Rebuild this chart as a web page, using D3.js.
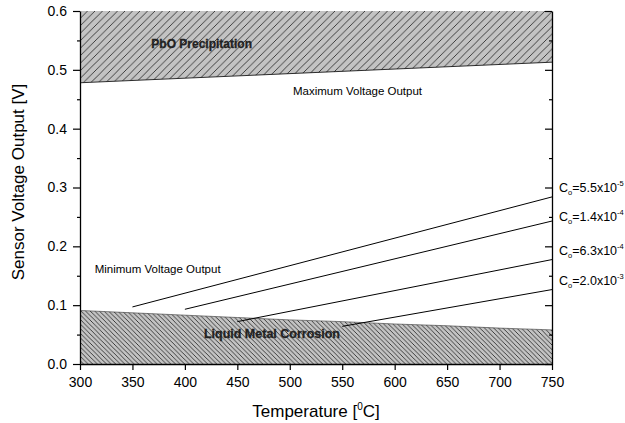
<!DOCTYPE html>
<html>
<head>
<meta charset="utf-8">
<script src="https://cdn.jsdelivr.net/npm/d3@7"></script>
<style>
  body { margin: 0; background: #fff; }
  svg { display: block; font-family: "Liberation Sans", Arial, sans-serif; }
</style>
</head>
<body>
<svg id="chart" width="625" height="423"></svg>
<script>
// values
const xTicks = [300, 350, 400, 450, 500, 550, 600, 650, 700, 750];
const yTicks = [0.0, 0.1, 0.2, 0.3, 0.4, 0.5, 0.6];
const yMinor = [0.05, 0.15, 0.25, 0.35, 0.45, 0.55];

// upper limit (PbO precipitation) and lower limit (liquid metal corrosion)
const precipT = [300, 750];
const precipV = [0.478, 0.513];
const corrT = [300, 350, 400, 450, 500, 550, 600, 650, 700, 750];
const corrV = [0.091, 0.087, 0.083, 0.079, 0.075, 0.072, 0.068, 0.065, 0.061, 0.058];

// sensor output lines for each oxygen concentration
const seriesMant = ['5.5', '1.4', '6.3', '2.0'];
const seriesExp = ['-5', '-4', '-4', '-3'];
const seriesT = [[350, 750], [400, 750], [450, 750], [550, 750]];
const seriesV = [[0.097, 0.284], [0.093, 0.243], [0.072, 0.1775], [0.064, 0.1265]];

const svg = d3.select('#chart');
const margin = { top: 11, right: 73, bottom: 59, left: 80 };
const width = +svg.attr('width');
const height = +svg.attr('height');
const innerWidth = width - margin.left - margin.right;
const innerHeight = height - margin.top - margin.bottom;

const x = d3.scaleLinear().domain([300, 750]).range([0, innerWidth]);
const y = d3.scaleLinear().domain([0, 0.6]).range([innerHeight, 0]);

const defs = svg.append('defs');
function hatch(id, s, up) {
    const p = defs.append('pattern')
        .attr('id', id)
        .attr('patternUnits', 'userSpaceOnUse')
        .attr('width', s).attr('height', s);
    p.append('rect').attr('width', s).attr('height', s).attr('fill', '#c3c3c3');
    const d = up
        ? `M0,${s} L${s},0 M${-s/2},${s/2} L${s/2},${-s/2} M${s/2},${s*1.5} L${s*1.5},${s/2}`
        : `M0,0 L${s},${s} M${-s/2},${s/2} L${s/2},${s*1.5} M${s/2},${-s/2} L${s*1.5},${s/2}`;
    p.append('path').attr('d', d).attr('stroke', '#111').attr('stroke-width', 0.75);
}
hatch('hatchUp', 7.5, true);
hatch('hatchDown', 4.6, false);

const g = svg.append('g')
    .attr('transform', `translate(${margin.left},${margin.top})`);

// regions
const precip = precipT.map((t, i) => ({ t: t, v: precipV[i] }));
const corr = corrT.map((t, i) => ({ t: t, v: corrV[i] }));

g.append('path')
    .datum(precip)
    .attr('fill', 'url(#hatchUp)')
    .attr('d', d3.area().x(d => x(d.t)).y0(y(0.6)).y1(d => y(d.v)));
g.append('path')
    .datum(corr)
    .attr('fill', 'url(#hatchDown)')
    .attr('d', d3.area().x(d => x(d.t)).y0(y(0)).y1(d => y(d.v)));

const edge = d3.line().x(d => x(d.t)).y(d => y(d.v));
g.append('path').datum(precip).attr('d', edge)
    .attr('fill', 'none').attr('stroke', '#000').attr('stroke-width', 0.8);
g.append('path').datum(corr).attr('d', edge)
    .attr('fill', 'none').attr('stroke', '#333').attr('stroke-width', 0.6);

// series lines
seriesT.forEach((ts, k) => {
    const pts = ts.map((t, i) => ({ t: t, v: seriesV[k][i] }));
    g.append('path').datum(pts)
        .attr('d', edge)
        .attr('fill', 'none')
        .attr('stroke', '#000')
        .attr('stroke-width', 1);
});

// axes
const font = '"Liberation Sans", Arial, sans-serif';
function styleAxis(sel) {
    sel.attr('font-family', font).attr('font-size', 14);
    sel.select('.domain').attr('stroke-width', 1.3);
    sel.selectAll('.tick line').attr('stroke-width', 1.2);
    sel.selectAll('.tick text').attr('fill', '#000');
}
// tick marks only, no labels
function bare(sel) {
    sel.selectAll('.tick text').remove();
}

g.append('g')
    .attr('transform', `translate(0,${innerHeight})`)
    .call(d3.axisBottom(x).tickValues(xTicks).tickSize(6).tickSizeOuter(0).tickPadding(7))
    .call(styleAxis);

g.append('g')
    .call(d3.axisLeft(y).tickValues(yTicks).tickFormat(d3.format('.1f'))
        .tickSize(7).tickSizeOuter(0).tickPadding(6))
    .call(styleAxis);
g.append('g')
    .call(d3.axisLeft(y).tickValues(yMinor).tickSize(3).tickSizeOuter(0))
    .call(styleAxis).call(bare)
    .select('.domain').remove();

const right = g.append('g').attr('transform', `translate(${innerWidth},0)`);
right.append('g')
    .call(d3.axisRight(y).tickValues(yTicks).tickSize(-7).tickSizeOuter(0))
    .call(styleAxis).call(bare);
right.append('g')
    .call(d3.axisRight(y).tickValues(yMinor).tickSize(-3).tickSizeOuter(0))
    .call(styleAxis).call(bare)
    .select('.domain').remove();

// axis titles
const xt = svg.append('text')
    .attr('x', margin.left + innerWidth / 2)
    .attr('y', 417)
    .attr('text-anchor', 'middle')
    .attr('font-family', font).attr('font-size', 17);
xt.append('tspan').text('Temperature [');
xt.append('tspan').attr('font-size', 10).attr('dy', -7).text('0');
xt.append('tspan').attr('dy', 7).text('C]');

svg.append('text')
    .attr('transform', `translate(24,${margin.top + 171}) rotate(-90)`)
    .attr('text-anchor', 'middle')
    .attr('font-family', font).attr('font-size', 17)
    .text('Sensor Voltage Output [V]');

// annotations
g.append('text')
    .attr('x', x(416)).attr('y', y(0.537))
    .attr('text-anchor', 'middle')
    .attr('font-family', font).attr('font-size', 12).attr('font-weight', 'bold')
    .attr('fill', '#222').attr('stroke', '#222').attr('stroke-width', 0.3)
    .text('PbO Precipitation');

g.append('text')
    .attr('x', x(483)).attr('y', y(0.045))
    .attr('text-anchor', 'middle')
    .attr('font-family', font).attr('font-size', 12.5).attr('font-weight', 'bold')
    .attr('fill', '#222').attr('stroke', '#222').attr('stroke-width', 0.3)
    .text('Liquid Metal Corrosion');

g.append('text')
    .attr('x', x(503)).attr('y', y(0.4575))
    .attr('font-family', font).attr('font-size', 11.5)
    .text('Maximum Voltage Output');

g.append('text')
    .attr('x', x(314)).attr('y', y(0.154))
    .attr('font-family', font).attr('font-size', 11.5)
    .text('Minimum Voltage Output');

// concentration labels at the right end of each line
const labelShift = [-5, 0, -5, -5];
seriesMant.forEach((m, k) => {
    const last = seriesV[k][seriesV[k].length - 1];
    const t = g.append('text')
        .attr('x', innerWidth + 7)
        .attr('y', y(last) + labelShift[k])
        .attr('font-family', font).attr('font-size', 12.5);
    t.append('tspan').text('C');
    t.append('tspan').attr('font-size', 7.5).attr('dy', 3).text('o');
    t.append('tspan').attr('dy', -3).text('=' + m + 'x10');
    t.append('tspan').attr('font-size', 7.5).attr('dy', -6).text(seriesExp[k]);
});
</script>
</body>
</html>
